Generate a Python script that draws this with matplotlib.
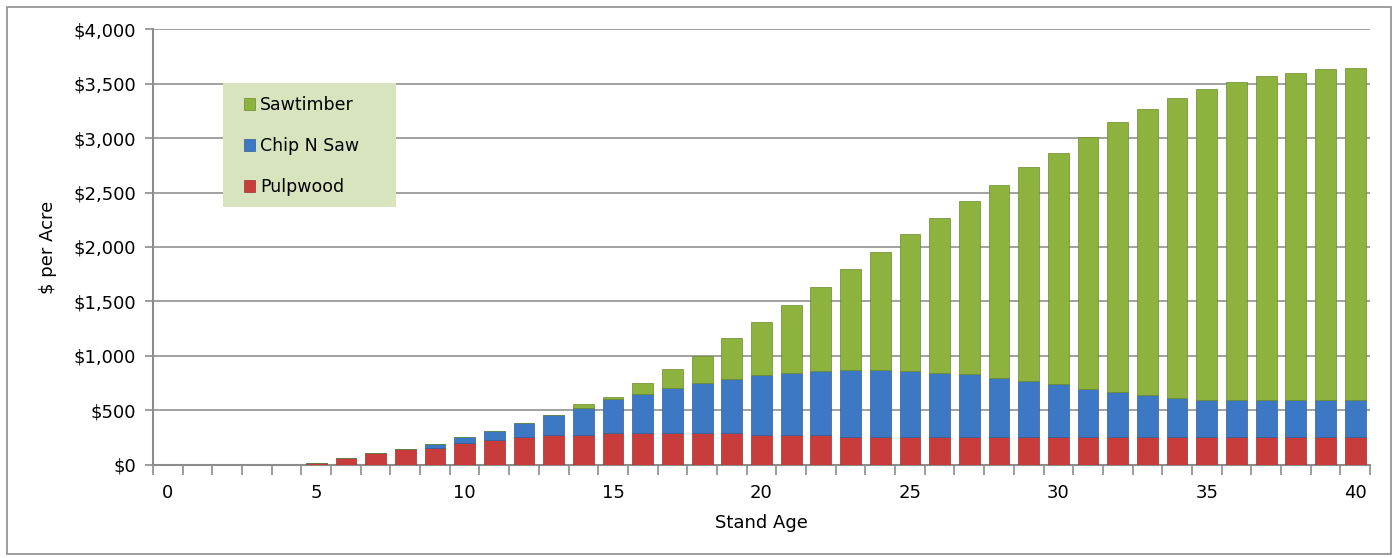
import matplotlib.pyplot as plt
import numpy as np
from matplotlib.ticker import FuncFormatter, MultipleLocator
from matplotlib.patches import Rectangle

ages = list(range(0, 41))

pulpwood = [0, 0, 0, 0, 0, 15, 65, 110, 145, 160,
            205, 232, 254, 275, 275, 291, 291, 291, 291, 291,
            278, 278, 278, 258, 255, 255, 255, 255, 255, 255,
            255, 255, 255, 255, 255, 255, 255, 255, 255, 255, 255]

chip_n_saw = [0, 0, 0, 0, 0, 0, 0, 0, 0, 33,
              52, 80, 131, 184, 250, 311, 357, 412, 458, 501,
              545, 569, 588, 613, 615, 606, 588, 578, 542, 514,
              486, 441, 413, 385, 358, 339, 339, 339, 339, 339, 339]

sawtimber = [0, 0, 0, 0, 0, 0, 0, 0, 0, 0,
             0, 0, 0, 0, 35, 22, 104, 178, 251, 373,
             489, 621, 767, 927, 1082, 1256, 1421, 1588, 1774, 1967,
             2122, 2311, 2480, 2627, 2755, 2856, 2920, 2975, 3003, 3040, 3049]

series_names = ["Sawtimber", "Chip N Saw", "Pulpwood"]
colors = {"Pulpwood": "#C93C3C", "Chip N Saw": "#3C78C3", "Sawtimber": "#8DB23E"}
edges = {"Pulpwood": "#9A3030", "Chip N Saw": "#2E5E98", "Sawtimber": "#6A8A2C"}

fig = plt.figure(figsize=(13.98, 5.58), dpi=100)
fig.patches.append(Rectangle((0.005, 0.008), 0.99, 0.98, transform=fig.transFigure,
                             fill=False, edgecolor="#8C8C8C", linewidth=1.2))
ax = fig.add_axes([0.1094, 0.1667, 0.8706, 0.7813])

x = np.array(ages)
w = 0.7
bottom = np.zeros(len(ages))
handles = {}
for name, vals in [("Pulpwood", pulpwood), ("Chip N Saw", chip_n_saw), ("Sawtimber", sawtimber)]:
    v = np.array(vals, dtype=float)
    b = ax.bar(x, v, w, bottom=bottom, color=colors[name], edgecolor=edges[name],
               linewidth=0.5, zorder=3, label=name)
    handles[name] = b
    bottom += v

ax.set_xlim(-0.5, 40.5)
ax.set_ylim(0, 4000)
ax.yaxis.set_major_locator(MultipleLocator(500))
ax.yaxis.set_major_formatter(FuncFormatter(lambda v, p: "${:,.0f}".format(v)))
ax.grid(axis="y", color="#9A9A9A", linewidth=1.3, zorder=0)

ax.set_xticks(range(0, 41, 5))
ax.set_xticks(np.arange(-0.5, 41, 1), minor=True)
ax.tick_params(axis="x", which="major", length=0, pad=14, labelsize=13)
ax.tick_params(axis="x", which="minor", length=7, color="#8C8C8C", width=1.2)
ax.tick_params(axis="y", length=6, color="#8C8C8C", width=1.2, labelsize=13, pad=6)

for s in ["top", "right"]:
    ax.spines[s].set_visible(False)
for s in ["left", "bottom"]:
    ax.spines[s].set_color("#8C8C8C")
    ax.spines[s].set_linewidth(1.5)

ax.set_xlabel("Stand Age", fontsize=13, labelpad=8)
ax.set_ylabel("$ per Acre", fontsize=13, labelpad=12)

# legend background box
ax.add_patch(Rectangle((0.0575, 0.592), 0.142, 0.284, transform=ax.transAxes,
                       facecolor="#D7E4BD", edgecolor="none", zorder=4))
leg = ax.legend([handles[n] for n in series_names], series_names,
                loc="upper left", bbox_to_anchor=(0.0745, 0.846),
                fontsize=12.5, frameon=False,
                handlelength=0.65, handleheight=0.65, handletextpad=0.3,
                labelspacing=1.32, borderpad=0, borderaxespad=0)
leg.set_zorder(5)

fig.savefig("out.png", dpi=100)
